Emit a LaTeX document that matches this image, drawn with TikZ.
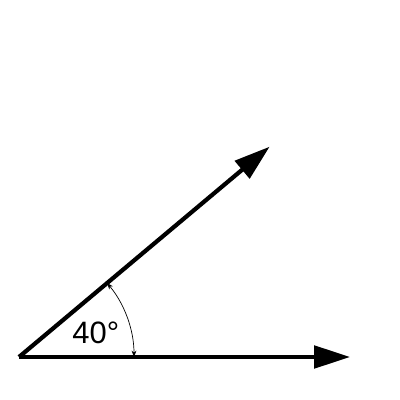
\documentclass[tikz,border=0pt]{standalone}
\usepackage{fontspec}
\setmainfont{Liberation Sans}
\usetikzlibrary{arrows.meta,calc}

\begin{document}
\begin{tikzpicture}[line width=3pt,
  ray/.style={-{Triangle[length=9mm,width=5.6mm]}},
  anglearc/.style={line width=0.5pt,{Stealth[length=1.6mm,width=1.2mm]}-{Stealth[length=1.6mm,width=1.2mm]}}]
  \useasboundingbox (-0.475,-1.075) rectangle (9.525,8.925);
  % --- sommet et extremites des deux demi-droites ---
  \coordinate (O) at (0,0);
  \coordinate (A) at (8.275,0);
  \coordinate (B) at (40:8.18);
  \draw[ray] (O) -- (A);
  \draw[ray] (O) -- (B);
  % arc et mesure de l'angle
  \draw[anglearc] ($(O)+(2.875,0)$) arc[start angle=0,end angle=40,radius=2.875];
  \node (mesure) at (1.92,0.6) {\fontsize{22}{26}\selectfont 40°};
\end{tikzpicture}
\end{document}
